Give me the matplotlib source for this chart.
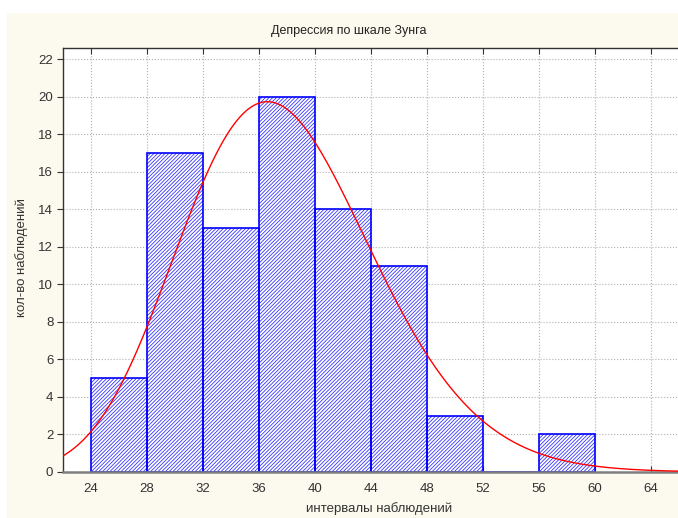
import math
import numpy as np
import matplotlib
matplotlib.use('Agg')
import matplotlib.pyplot as plt
from matplotlib.patches import Rectangle

plt.rcParams['font.family'] = ['Liberation Sans', 'DejaVu Sans']
plt.rcParams['hatch.linewidth'] = 0.6

# histogram data
bin_edges = [24, 28, 32, 36, 40, 44, 48, 52, 56, 60]
counts = [5, 17, 13, 20, 14, 11, 3, 0, 2]

# fitted curve (gamma), scaled by N * bin width
fit_shape = 29.5
fit_scale = 1.284
n_obs = sum(counts)
bin_width = 4

title = 'Депрессия по шкале Зунга'
xlabel = 'интервалы наблюдений'
ylabel = 'кол-во наблюдений'
xticks = list(range(24, 65, 4))
yticks = list(range(0, 23, 2))

W, H = 678, 518
fig = plt.figure(figsize=(W / 100, H / 100), dpi=100)
fig.patch.set_facecolor('#FCF9EE')
# white strips at top and left edge
fig.patches.append(Rectangle((0, 1 - 13 / H), 1, 13 / H, transform=fig.transFigure,
                             facecolor='white', edgecolor='none', zorder=0))
fig.patches.append(Rectangle((0, 0), 7 / W, 1, transform=fig.transFigure,
                             facecolor='white', edgecolor='none', zorder=0))

ax_left, ax_top, ax_bottom = 63, 47.7, 472
ax = fig.add_axes([ax_left / W, 1 - ax_bottom / H, (W - ax_left) / W, (ax_bottom - ax_top) / H])
ax.set_facecolor('white')

widths = np.diff(bin_edges)
# hatch fill, then the outline on top
ax.bar(bin_edges[:-1], counts, width=widths, align='edge',
       facecolor='white', edgecolor='#3535ff', hatch='/////////', linewidth=0, zorder=2)
ax.bar(bin_edges[:-1], counts, width=widths, align='edge',
       fill=False, edgecolor='#0000FF', linewidth=1.2, zorder=2.5)

xs = np.linspace(22, 66, 400)
logpdf = ((fit_shape - 1) * np.log(xs) - xs / fit_scale
          - fit_shape * math.log(fit_scale) - math.lgamma(fit_shape))
ax.plot(xs, n_obs * bin_width * np.exp(logpdf), color='red', lw=1.0, zorder=3)

ax.set_xlim(22, 22 + (W - ax_left) / 14)
ax.set_ylim(0, (ax_bottom - ax_top) / 18.77)
ax.set_xticks(xticks)
ax.set_yticks(yticks)
ax.grid(True, color='#b0b0b0', linestyle=':', linewidth=0.8, zorder=0)
ax.set_axisbelow(True)

ax.tick_params(axis='x', direction='in', top=True, bottom=True, length=4,
               labelsize=9.5, labelcolor='#333333', pad=8, color='#333333')
ax.tick_params(axis='y', direction='out', left=True, length=4,
               labelsize=9.5, labelcolor='#333333', pad=3, color='#333333')

for s in ['left', 'top']:
    ax.spines[s].set_color('#333333')
    ax.spines[s].set_linewidth(1.0)
ax.spines['bottom'].set_color('#808080')
ax.spines['bottom'].set_linewidth(1.8)
ax.spines['right'].set_visible(False)

fig.text(0.5 + 10 / W, 1 - 31 / H, title, ha='center', va='center', fontsize=9, color='#222222')
fig.text(0.5 + 40 / W, 1 - 509 / H, xlabel, ha='center', va='center', fontsize=9.5, color='#333333')
fig.text(22 / W, 1 - 258 / H, ylabel, ha='center', va='center', rotation=90,
         fontsize=9.5, color='#333333')

fig.savefig('out.png', dpi=100, facecolor=fig.get_facecolor())
